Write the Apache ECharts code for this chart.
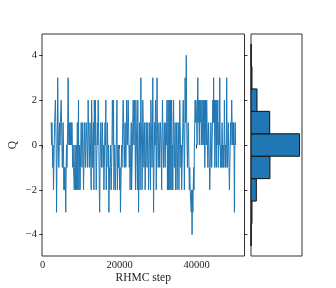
<!DOCTYPE html>
<html><head><meta charset="utf-8">
<script src="https://cdn.jsdelivr.net/npm/echarts@6/dist/echarts.min.js"></script>
<style>html,body{margin:0;padding:0;background:#fff}#c{width:336px;height:288px}</style>
</head><body><div id="c"></div>
<script>
// RHMC trajectory: first step and sampling interval
const stepStart = 2200;
const stepInterval = 100;
// topological charge Q per sample
const qValues = [
 1,0,1,0,-1,0,-2,-1,0,1, 1,2,1,0,-3,-1,0,3,1,0,
 -1,0,1,0,1,1,2,1,0,-1, 0,1,0,-2,-1,-2,-1,-2,-3,-1,
 0,-1,0,1,3,1,0,1,0,1, 1,0,1,0,1,0,-1,0,-1,-1,
 -2,-1,0,-2,-1,0,-2,-1,1,-2, 0,2,-2,-1,0,-2,-1,0,1,0,
 -1,0,1,0,-2,-1,0,1,0,-1, 0,1,1,0,-1,0,2,1,0,-1,
 0,1,0,-1,-2,2,1,0,-1,0, 1,-2,2,1,0,2,0,-2,-1,0,
 1,0,2,1,0,-2,-3,-1,0,1, 0,-1,0,1,0,-1,0,-2,-1,0,
 1,0,2,-2,-1,0,1,0,-1,0, -3,-1,-2,-1,0,-1,-2,-1,0,2,
 1,0,2,-2,-1,0,-1,-2,-1,0, 1,2,-2,-1,0,-1,0,-1,-2,-1,
 -3,-2,-1,0,-1,0,1,2,1,0, -1,0,1,0,-1,0,2,1,0,1,
 2,1,0,-1,0,-2,-1,0,1,-2, -1,0,1,2,1,0,2,1,0,-2,
 2,1,0,-1,-2,2,0,-3,-1,0, 1,-2,0,3,1,0,-2,-1,2,1,
 0,-1,0,1,-2,-1,0,1,0,-1, 0,1,0,-2,-1,0,1,0,-2,2,
 1,0,-1,0,3,0,-3,-1,0,1, 0,2,1,-2,0,3,1,0,-1,0,
 1,0,-1,0,1,1,0,-2,0,2, 1,0,-1,0,1,0,-1,0,1,0,
 1,2,-2,0,2,-2,0,2,-2,0, 2,-2,1,2,-2,0,-2,1,2,0,
 -1,0,1,-2,-1,0,1,-2,-1,0, 1,0,-2,0,2,1,0,-1,0,-2,
 -1,0,1,2,1,0,-2,0,3,1, 2,4,1,0,-1,0,1,0,-1,-2,
 -1,-2,-2,-2,-3,-2,-4,-2,-3,-2, -1,-2,0,1,2,1,2,2,1,0,
 2,3,1,2,1,0,2,1,1,2, 0,1,2,1,0,2,1,0,2,-1,
 0,2,1,0,2,1,0,-1,0,1, 0,-1,-2,-1,0,1,0,-1,0,1,
 2,1,3,1,2,-1,0,2,1,-1, 2,0,1,2,-1,0,1,0,3,0,
 -1,0,-1,0,1,0,-1,0,-1,0, 2,0,-1,0,-1,0,3,0,-1,0,
 1,0,-1,-2,-1,0,1,0,1,2, 1,0,1,0,1,0,-3,0,1,0
];
// histogram of Q (relative frequency)
const histQ = [-4,-3,-2,-1,0,1,2,3,4];
const histFreq = [0.3,2,11,39,100,38.5,12.3,2,0.4];
// tick labels
const xTicks = [0,20000,40000];
const yTicks = [-4,-2,0,2,4];

const lineData = qValues.map((q,i)=>[stepStart + i*stepInterval, q]);
const histData = histQ.map((q,i)=>[q, histFreq[i]]);

const font = 'Liberation Serif';
const frame = '#333';
const chart = echarts.init(document.getElementById('c'), null, {renderer:'canvas'});
const fmt = v => (v < 0 ? '\u2212' + Math.abs(v) : String(v));
chart.setOption({
  animation:false,
  backgroundColor:'#fff',
  grid:[
    {left:42, top:34, width:202.5, height:222, containLabel:false, outerBoundsMode:'none', show:true, borderColor:frame, borderWidth:1, backgroundColor:'transparent'},
    {left:251, top:34, width:51, height:222, containLabel:false, outerBoundsMode:'none', show:true, borderColor:frame, borderWidth:1, backgroundColor:'transparent'}
  ],
  xAxis:[
    {type:'value', gridIndex:0, min:-180, max:52420,
     name:'RHMC step', nameLocation:'middle', nameGap:16, nameMoveOverlap:false,
     nameTextStyle:{fontFamily:font, fontSize:11.5, color:'#222'},
     axisLine:{show:false}, splitLine:{show:false},
     axisTick:{show:true, customValues:xTicks, length:3.5, lineStyle:{color:frame}},
     axisLabel:{customValues:xTicks, formatter:v=>String(v), fontFamily:font, fontSize:10.5, color:'#222', margin:4}},
    {type:'value', gridIndex:1, min:0, max:105,
     axisLine:{show:false}, splitLine:{show:false}, axisTick:{show:false}, axisLabel:{show:false}}
  ],
  yAxis:[
    {type:'value', gridIndex:0, min:-4.95, max:4.95,
     name:'Q', nameLocation:'middle', nameGap:23, nameMoveOverlap:false,
     nameTextStyle:{fontFamily:font, fontSize:11.5, color:'#222'},
     axisLine:{show:false}, splitLine:{show:false},
     axisTick:{show:true, customValues:yTicks, length:3.5, lineStyle:{color:frame}},
     axisLabel:{customValues:yTicks, formatter:fmt, fontFamily:font, fontSize:10.5, color:'#222', margin:5}},
    {type:'value', gridIndex:0, position:'right', min:-4.95, max:4.95,
     axisLine:{show:false}, splitLine:{show:false},
     axisTick:{show:true, customValues:yTicks, length:3, lineStyle:{color:frame}},
     axisLabel:{show:false}},
    {type:'value', gridIndex:1, min:-4.95, max:4.95,
     axisLine:{show:false}, splitLine:{show:false}, axisTick:{show:false}, axisLabel:{show:false}}
  ],
  series:[
    {type:'line', xAxisIndex:0, yAxisIndex:0, data:lineData, showSymbol:false, symbol:'none',
     lineStyle:{color:'#1f77b4', width:1}},
    {type:'custom', xAxisIndex:1, yAxisIndex:2, data:histData,
     renderItem:function(params, api){
       const q = api.value(0), f = api.value(1);
       const p0 = api.coord([0, q+0.5]);
       const p1 = api.coord([f, q-0.5]);
       return {type:'rect', shape:{x:p0[0], y:p0[1], width:p1[0]-p0[0], height:p1[1]-p0[1]},
               style:{fill:'#1f77b4', stroke:'#111', lineWidth:1}};
     }}
  ]
});
</script></body></html>
